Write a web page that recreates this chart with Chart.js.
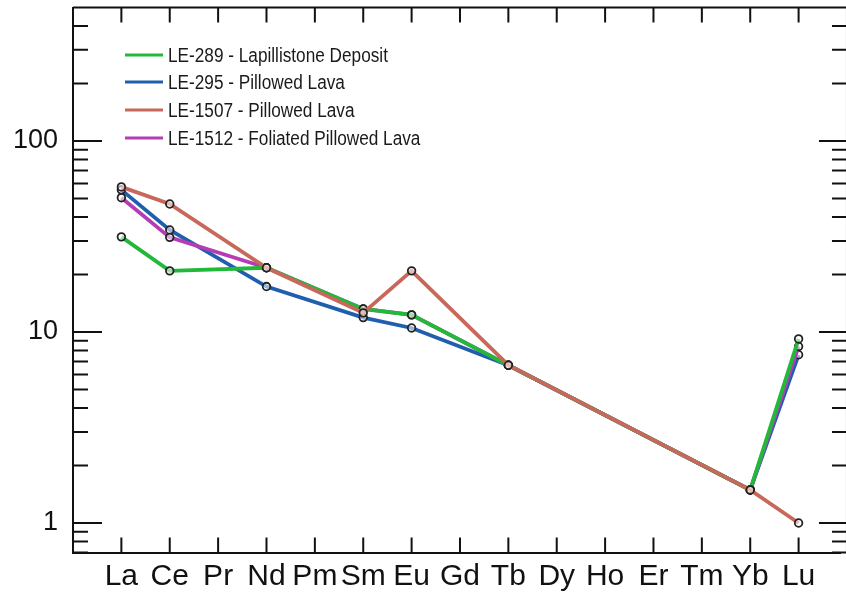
<!DOCTYPE html>
<html>
<head>
<meta charset="utf-8">
<script src="https://cdn.jsdelivr.net/npm/chart.js@4"></script>
<style>
  body { margin: 0; background: #fff; }
  canvas { display: block; }
</style>
</head>
<body>
<canvas id="ree" width="846" height="596"></canvas>
<script>
// REE spider diagram (chondrite normalised), log scale
const elements = ['La', 'Ce', 'Pr', 'Nd', 'Pm', 'Sm', 'Eu', 'Gd', 'Tb', 'Dy', 'Ho', 'Er', 'Tm', 'Yb', 'Lu'];

const seriesNames = [
  'LE-289 - Lapillistone Deposit',
  'LE-295 - Pillowed Lava',
  'LE-1507 - Pillowed Lava',
  'LE-1512 - Foliated Pillowed Lava'
];
const seriesColors = ['#22b83a', '#1f5fae', '#c8685a', '#b43cb4'];

// null = not analysed
const le289  = [31.5, 20.9, null, 21.7, null, 13.2, 12.3, null, 6.7, null, null, null, null, 1.49, 9.2];
const le295  = [55.5, 34.2, null, 17.3, null, 11.9, 10.5, null, 6.7, null, null, null, null, 1.49, 7.6];
const le1507 = [57.5, 46.8, null, 21.7, null, 12.6, 20.9, null, 6.7, null, null, null, null, 1.49, 1.0];
const le1512 = [50.5, 31.3, null, 21.7, null, 13.2, 12.3, null, 6.7, null, null, null, null, 1.49, 8.4];

const yTickValues = [0.7, 0.8, 0.9, 1, 2, 3, 4, 5, 6, 7, 8, 9, 10, 20, 30, 40, 50, 60, 70, 80, 90, 100, 200, 300, 400, 500];
const yLabelled = [1, 10, 100];

const toPoints = arr => arr.map((v, i) => ({ x: i, y: v })).filter(p => p.y !== null);

const allSeries = [le289, le295, le1507, le1512];
const drawOrder = [1, 3, 0, 2]; // red on top, then green, purple, blue

const datasets = allSeries.map((arr, k) => ({
  label: seriesNames[k],
  data: toPoints(arr),
  borderColor: seriesColors[k],
  backgroundColor: seriesColors[k],
  borderWidth: 3.8,
  tension: 0,
  pointRadius: 3.8,
  pointBorderWidth: 1.8,
  pointBorderColor: '#222',
  pointBackgroundColor: 'rgba(255,255,255,0.55)',
  order: drawOrder[k]
}));

// inward ticks on all four sides + top/right frame
const frameTicks = {
  id: 'frameTicks',
  afterDraw(chart) {
    const { ctx, chartArea, scales } = chart;
    const xs = scales.x, ys = scales.y;
    const left = chartArea.left, top = chartArea.top, bottom = chartArea.bottom;
    const right = xs.getPixelForValue(15);
    ctx.save();
    ctx.strokeStyle = '#111';
    ctx.lineWidth = 2;
    ctx.beginPath();
    ctx.moveTo(left, top); ctx.lineTo(right, top);
    ctx.moveTo(right, top); ctx.lineTo(right, bottom);
    elements.forEach((_, i) => {
      const x = xs.getPixelForValue(i);
      ctx.moveTo(x, bottom); ctx.lineTo(x, bottom - 15);
      ctx.moveTo(x, top); ctx.lineTo(x, top + 15);
    });
    yTickValues.forEach(v => {
      const y = ys.getPixelForValue(v);
      if (y < top - 1 || y > bottom + 1) return;
      const major = yLabelled.includes(v);
      ctx.moveTo(left, y); ctx.lineTo(left + (major ? 29 : 15), y);
      ctx.moveTo(right, y); ctx.lineTo(right - (major ? 28 : 15), y);
    });
    ctx.stroke();
    ctx.restore();
  }
};

const insetLegend = {
  id: 'insetLegend',
  afterDraw(chart) {
    const { ctx } = chart;
    const rows = [55, 82, 110, 138];
    ctx.save();
    ctx.font = '20px "Liberation Sans", Arial, sans-serif';
    ctx.textBaseline = 'middle';
    ctx.fillStyle = '#1a1a1a';
    chart.data.datasets.forEach((ds, k) => {
      const y = rows[k];
      ctx.strokeStyle = ds.borderColor;
      ctx.lineWidth = 3;
      ctx.beginPath();
      ctx.moveTo(125, y); ctx.lineTo(163, y);
      ctx.stroke();
      ctx.save();
      ctx.translate(168, y + 1);
      ctx.scale(0.86, 1);
      ctx.fillText(ds.label, 0, 0);
      ctx.restore();
    });
    ctx.restore();
  }
};

const config = {
  type: 'line',
  data: { datasets },
  options: {
    responsive: false,
    animation: false,
    devicePixelRatio: 1,
    layout: { padding: { left: 0, right: 0, top: 7.5, bottom: 0 } },
    plugins: { legend: { display: false }, tooltip: { enabled: false } },
    scales: {
      x: {
        type: 'linear',
        min: -1,
        max: 14.86,
        afterBuildTicks: s => { s.ticks = elements.map((_, i) => ({ value: i })); },
        afterFit: s => { s.height = 43.4; s.paddingLeft = 0; s.paddingRight = 0; },
        grid: { drawOnChartArea: false, drawTicks: false },
        border: { display: true, color: '#111', width: 2 },
        ticks: {
          autoSkip: false,
          maxRotation: 0,
          padding: 6,
          color: '#111',
          font: { family: '"Liberation Sans", Arial, sans-serif', size: 30 },
          callback: v => elements[v] || ''
        }
      },
      y: {
        type: 'logarithmic',
        min: 0.7,
        max: 500,
        afterBuildTicks: s => { s.ticks = yTickValues.map(v => ({ value: v })); },
        afterFit: s => { s.width = 73; s.paddingTop = 0; s.paddingBottom = 0; },
        grid: { drawOnChartArea: false, drawTicks: false },
        border: { display: true, color: '#111', width: 2 },
        ticks: {
          autoSkip: false,
          padding: 15,
          color: '#111',
          font: { family: '"Liberation Sans", Arial, sans-serif', size: 27 },
          callback: v => yLabelled.includes(v) ? String(v) : ''
        }
      }
    }
  },
  plugins: [frameTicks, insetLegend]
};

let reeChart = new Chart(document.getElementById('ree'), config);
</script>
</body>
</html>
